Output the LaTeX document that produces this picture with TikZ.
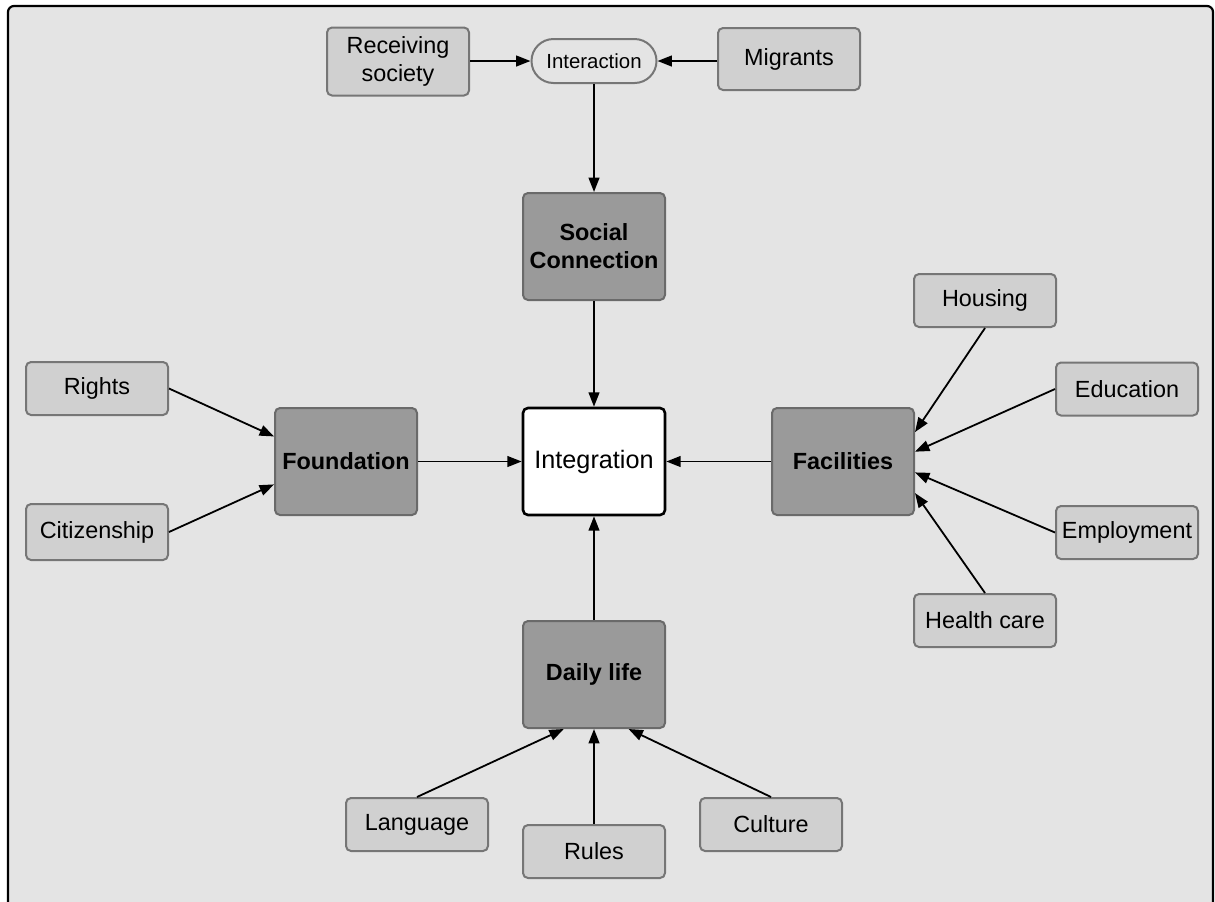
\documentclass[tikz,border=0pt]{standalone}
\usepackage{fontspec}
\setmainfont{Liberation Sans}
\usetikzlibrary{arrows.meta,shapes.misc,calc}
\definecolor{bgfill}{HTML}{E4E4E4}
\definecolor{smallfill}{HTML}{D0D0D0}
\definecolor{bigfill}{HTML}{9A9A9A}
\definecolor{boxline}{HTML}{767676}
\tikzset{
  base/.style={rectangle, rounded corners=2.5pt, line width=1pt, draw=boxline,
    inner sep=0pt, align=center, text=black},
  small/.style={base, fill=smallfill, minimum width=71pt, minimum height=26.5pt,
    font=\fontsize{11.7}{14}\selectfont},
  big/.style={base, fill=bigfill, draw=boxline!90!black, minimum width=71pt, minimum height=53.5pt,
    font=\fontsize{11.7}{14}\selectfont\bfseries},
  integ/.style={rectangle, rounded corners=2.5pt, line width=1.3pt, draw=black, fill=white,
    minimum width=71pt, minimum height=53.5pt, inner sep=0pt,
    font=\fontsize{12.6}{15}\selectfont},
  pill/.style={rounded rectangle, line width=1pt, draw=boxline, fill=bgfill,
    minimum width=62.5pt, minimum height=22pt, inner sep=0pt,
    font=\fontsize{10.2}{12}\selectfont},
  arr/.style={line width=0.9pt, draw=black, -{Triangle[length=7.2pt,width=5.4pt]}},
}
\begin{document}
\begin{tikzpicture}[x=0.5pt,y=-0.5pt]
\useasboundingbox (0,0) rectangle (1215,901);
\fill[white] (0,0) rectangle (1215,901);
\draw[line width=1.1pt, fill=bgfill, rounded corners=3pt] (8,6) rectangle (1213,930);

% top
\node[small, minimum height=34pt] (rec) at (398,61.5) {Receiving\\society};
\node[pill] (inter) at (594,61) {Interaction};
\node[small, minimum height=31pt] (mig) at (789,59) {Migrants};
\node[big] (soc) at (594,246.5) {Social\\Connection};

% middle
\node[integ] (integ) at (594,461.5) {Integration};
\node[big] (found) at (346,461.5) {Foundation};
\node[big] (fac) at (843,461.5) {Facilities};
\node[big] (daily) at (594,674.5) {Daily life};

% left
\node[small] (rights) at (97,388.5) {Rights};
\node[small, minimum height=28pt] (citiz) at (97,532) {Citizenship};

% right
\node[small] (housing) at (985,300.5) {Housing};
\node[small] (educ) at (1127,389) {Education};
\node[small] (employ) at (1127,532.5) {Employment};
\node[small] (health) at (985,620.5) {Health care};

% bottom
\node[small] (lang) at (417,824.5) {Language};
\node[small] (rules) at (594,851.5) {Rules};
\node[small] (cult) at (771,824.5) {Culture};

% connectors
\draw[arr] (rec.east |- inter.west) -- (inter.west);
\draw[arr] (mig.west |- inter.east) -- (inter.east);
\draw[arr] (inter.south) -- (soc.north);
\draw[arr] (soc.south) -- (integ.north);
\draw[arr] (found.east) -- (integ.west);
\draw[arr] (fac.west) -- (integ.east);
\draw[arr] (daily.north) -- (integ.south);

\draw[arr] (rights.east) -- ($(found.north west)!0.27!(found.south west)$);
\draw[arr] (citiz.east) -- ($(found.north west)!0.71!(found.south west)$);

\draw[arr] (housing.south) -- ($(fac.north east)!0.23!(fac.south east)$);
\draw[arr] (educ.west) -- ($(fac.north east)!0.41!(fac.south east)$);
\draw[arr] (employ.west) -- ($(fac.north east)!0.60!(fac.south east)$);
\draw[arr] (health.north) -- ($(fac.north east)!0.79!(fac.south east)$);

\draw[arr] (lang.north) -- ($(daily.south west)!0.29!(daily.south east)$);
\draw[arr] (rules.north) -- (daily.south);
\draw[arr] (cult.north) -- ($(daily.south west)!0.74!(daily.south east)$);
\end{tikzpicture}
\end{document}
